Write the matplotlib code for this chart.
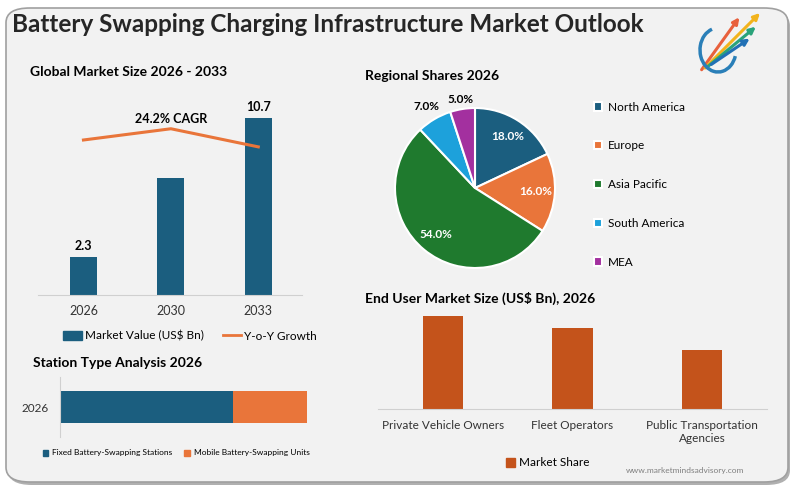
import matplotlib
matplotlib.use("Agg")
import matplotlib.pyplot as plt
from matplotlib.patches import FancyBboxPatch, Patch
from matplotlib.lines import Line2D
import numpy as np

plt.rcParams['font.family'] = ['Lato', 'DejaVu Sans']

# ---- data ----
years = ['2026', '2030', '2033']
market_value = [2.3, 7.1, 10.7]
yoy_growth = [24.8, 26.6, 23.7]
cagr_label = '24.2% CAGR'

station_types = ['Fixed Battery-Swapping Stations', 'Mobile Battery-Swapping Units']
station_share = [70, 30]

regions = ['North America', 'Europe', 'Asia Pacific', 'South America', 'MEA']
region_share = [18.0, 16.0, 54.0, 7.0, 5.0]

end_users = ['Private Vehicle Owners', 'Fleet Operators', 'Public Transportation\nAgencies']
end_user_size = [0.92, 0.80, 0.58]

BLUE = '#1b5e7f'
ORANGE = '#e9753a'
RUST = '#c4531b'
region_colors = [BLUE, ORANGE, '#1f7a2e', '#1da1db', '#a3309f']
BG = '#f2f2f2'

W, H = 800, 488


def px(x0, y0, x1, y1):
    # pixel box (top-left origin) -> figure fraction rect
    return [x0 / W, 1 - y1 / H, (x1 - x0) / W, (y1 - y0) / H]


fig = plt.figure(figsize=(8, 4.88), dpi=100)
fig.patch.set_facecolor('white')

# background panel (with a soft shadow)
shadow = FancyBboxPatch((8 / W, 3 / H), 782 / W, 474 / H,
                        boxstyle="round,pad=0,rounding_size=0.03",
                        transform=fig.transFigure, facecolor='#b0b0b0',
                        edgecolor='none', zorder=-6)
panel = FancyBboxPatch((6 / W, 6 / H), 782 / W, 474 / H,
                       boxstyle="round,pad=0,rounding_size=0.03",
                       transform=fig.transFigure, facecolor=BG,
                       edgecolor='#a0a0a0', linewidth=1.2, zorder=-5)
fig.patches.extend([shadow, panel])

fig.text(12 / W, 1 - 25 / H, 'Battery Swapping Charging Infrastructure Market Outlook',
         fontsize=17.5, fontweight='bold', color='#262626', va='center', ha='left')

# simple logo arrows
logo_cols = ['#e8603c', '#f2b31c', '#2aa37a', '#2170b5']
ends = [(741, 15), (762, 11), (758, 25), (752, 37)]
for i, (c, e) in enumerate(zip(logo_cols, ends)):
    fig.add_artist(matplotlib.patches.FancyArrowPatch(
        ((700 + i * 3) / W, 1 - (72 - i * 2) / H), (e[0] / W, 1 - e[1] / H),
        transform=fig.transFigure, arrowstyle='-|>', mutation_scale=9, color=c, lw=2.2))
fig.add_artist(matplotlib.patches.Arc((718 / W, 1 - 50 / H), 36 / W, 44 / H, theta1=100, theta2=330,
                                      transform=fig.transFigure, color='#2a7fb8', lw=2.5))

# ---- global market size ----
fig.text(30 / W, 1 - 72 / H, 'Global Market Size 2026 - 2033', fontsize=10,
         fontweight='bold', color='black', va='center')
ax1 = fig.add_axes(px(38, 95, 302, 295))
ax1.set_facecolor('none')
x = range(len(years))
ax1.bar(x, market_value, width=0.31, color=BLUE)
ax1.set_xlim(-0.52, 2.5)
ax1.set_ylim(0, 12.09)
ax1.set_xticks(list(x))
ax1.set_xticklabels(years, fontsize=9, color='#333333')
ax1.tick_params(axis='x', length=0, pad=7)
ax1.set_yticks([])
for s in ['top', 'right', 'left']:
    ax1.spines[s].set_visible(False)
ax1.spines['bottom'].set_color('#d0d0d0')
for i in (0, 2):
    ax1.text(i, market_value[i] + 0.3, f'{market_value[i]}', ha='center', va='bottom',
             fontsize=9, fontweight='bold')
ax1b = ax1.twinx()
ax1b.plot(list(x), yoy_growth, color=ORANGE, lw=2.2)
ax1b.set_ylim(0, 32)
ax1b.axis('off')
ax1b.text(1, yoy_growth[1] + 0.6, cagr_label, ha='center', va='bottom', fontsize=9, fontweight='bold')

fig.legend(handles=[Patch(color=BLUE, label='Market Value (US$ Bn)'),
                    Line2D([], [], color=ORANGE, lw=2, label='Y-o-Y Growth')],
           loc='center', bbox_to_anchor=(190 / W, 1 - 336 / H), ncol=2, frameon=False,
           fontsize=8.5, handlelength=1.6, handleheight=0.8, columnspacing=1.6, handletextpad=0.2)

# ---- station type ----
fig.text(33 / W, 1 - 363 / H, 'Station Type Analysis 2026', fontsize=10,
         fontweight='bold', va='center')
ax2 = fig.add_axes(px(60, 377, 307, 437))
ax2.set_facecolor('none')
left = 0
for val, col in zip(station_share, [BLUE, ORANGE]):
    ax2.barh([0], [val], left=left, height=0.52, color=col)
    left += val
ax2.set_xlim(0, 100)
ax2.set_ylim(-0.5, 0.5)
ax2.set_yticks([0])
ax2.set_yticklabels(['2026'], fontsize=8.5, color='#333333')
ax2.tick_params(axis='y', length=0, pad=8)
ax2.set_xticks([])
for s in ['top', 'right', 'bottom']:
    ax2.spines[s].set_visible(False)
ax2.spines['left'].set_color('#d0d0d0')
fig.legend(handles=[Patch(color=BLUE, label=station_types[0]),
                    Patch(color=ORANGE, label=station_types[1])],
           loc='center', bbox_to_anchor=(176 / W, 1 - 453 / H), ncol=2, frameon=False,
           fontsize=6, handlelength=0.7, handleheight=0.7, columnspacing=1.5, handletextpad=0.4)

# ---- regional shares ----
fig.text(365 / W, 1 - 76 / H, 'Regional Shares 2026', fontsize=10, fontweight='bold', va='center')
ax3 = fig.add_axes(px(395, 108, 555, 268))
wedges, texts, autotexts = ax3.pie(region_share, colors=region_colors, startangle=90,
                                   counterclock=False, autopct='%.1f%%', pctdistance=0.76,
                                   wedgeprops=dict(edgecolor='white', linewidth=1.5),
                                   textprops=dict(fontsize=8.5, fontweight='bold', color='white'))
for w, t, r in zip(wedges, autotexts, region_share):
    if r < 10:
        ang = np.deg2rad((w.theta1 + w.theta2) / 2)
        rad = 1.19 if r > 6 else 1.12
        t.set_position((rad * np.cos(ang), rad * np.sin(ang)))
        t.set_color('black')
ax3.set_xlim(-1, 1)
ax3.set_ylim(-1, 1)
ax3.legend(wedges, regions, loc='upper left', bbox_to_anchor=(583 / W, 1 - 91 / H),
           bbox_transform=fig.transFigure, frameon=False, fontsize=8.5,
           handlelength=0.7, handleheight=0.7, handletextpad=0.5, labelspacing=2.35)

# ---- end user ----
fig.text(365 / W, 1 - 298 / H, 'End User Market Size (US$ Bn), 2026', fontsize=10,
         fontweight='bold', va='center')
ax4 = fig.add_axes(px(378, 300, 767, 409))
ax4.set_facecolor('none')
xe = range(len(end_users))
ax4.bar(xe, end_user_size, width=0.31, color=RUST)
ax4.set_xlim(-0.5, 2.5)
ax4.set_ylim(0, 1.078)
ax4.set_xticks(list(xe))
ax4.set_xticklabels(end_users, fontsize=8.5, color='#333333')
ax4.tick_params(axis='x', length=0, pad=8)
ax4.set_yticks([])
for s in ['top', 'right', 'left']:
    ax4.spines[s].set_visible(False)
ax4.spines['bottom'].set_color('#d0d0d0')
fig.legend(handles=[Patch(color=RUST, label='Market Share')],
           loc='center', bbox_to_anchor=(548 / W, 1 - 463 / H), frameon=False,
           fontsize=8.5, handlelength=0.7, handleheight=0.7, handletextpad=0.4)

fig.text(685 / W, 1 - 470 / H, 'www.marketmindsadvisory.com', fontsize=6,
         color='#7f7f7f', ha='center', va='center')

fig.savefig('out.png', dpi=100)
